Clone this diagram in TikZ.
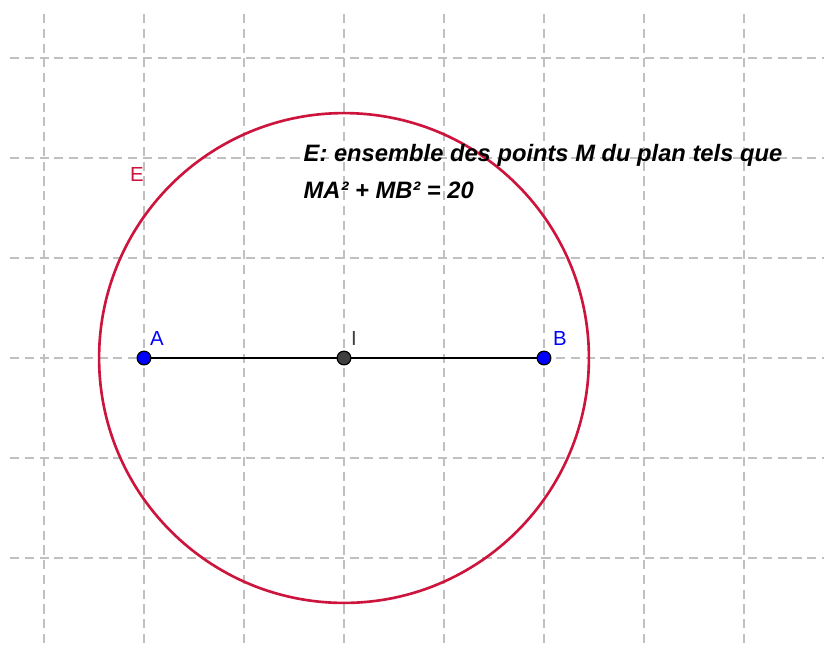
\documentclass[tikz,border=0pt]{standalone}
\usepackage{fontspec}
\setmainfont{Liberation Sans}
\usepackage{xcolor}
\definecolor{lieu}{RGB}{204,20,60}
\definecolor{grille}{RGB}{192,192,192}
\definecolor{bleupt}{RGB}{0,0,255}
\definecolor{grispt}{RGB}{64,64,64}

\begin{document}
\begin{tikzpicture}[x=1cm,y=1cm]
  \useasboundingbox (-3.44,-2.88) rectangle (4.80,3.58);
  \tikzset{grid line/.style={grille,line width=0.45pt,dash pattern=on 2.6pt off 1.6pt},
    point/.style={circle,draw=black,line width=0.35pt,inner sep=0pt,minimum size=3.9pt},
    label text/.style={font=\fontsize{5.8}{6.5}\selectfont}}
  \foreach \x in {-3,...,4}
    \draw[grid line] (\x,3.44) -- (\x,-2.88);
  \foreach \y in {-2,...,3}
    \draw[grid line] (-3.34,\y) -- (4.80,\y);
  \draw[lieu,line width=0.75pt] (0,0) circle (2.449);
  \node[point,fill=bleupt] (A) at (-2,0) {};
  \node[point,fill=grispt] (I) at (0,0) {};
  \node[point,fill=bleupt] (B) at (2,0) {};
  \draw[line width=0.5pt] (A) -- (I) -- (B);
  \node[label text,text=bleupt] (lA) at (-1.87,0.20) {A};
  \node[label text,text=grispt] (lI) at (0.10,0.20) {I};
  \node[label text,text=bleupt] (lB) at (2.16,0.20) {B};
  \node[label text,text=lieu] (lE) at (-2.07,1.84) {E};
  \node[anchor=base west,inner sep=0pt,font=\fontsize{6.75}{7}\selectfont\bfseries\itshape] (titre) at (-0.41,1.97) {E: ensemble des points M du plan tels que};
  \node[anchor=base west,inner sep=0pt,font=\fontsize{6.75}{7}\selectfont\bfseries\itshape] (egal) at (-0.41,1.60) {MA² + MB² = 20};
\end{tikzpicture}
\end{document}
